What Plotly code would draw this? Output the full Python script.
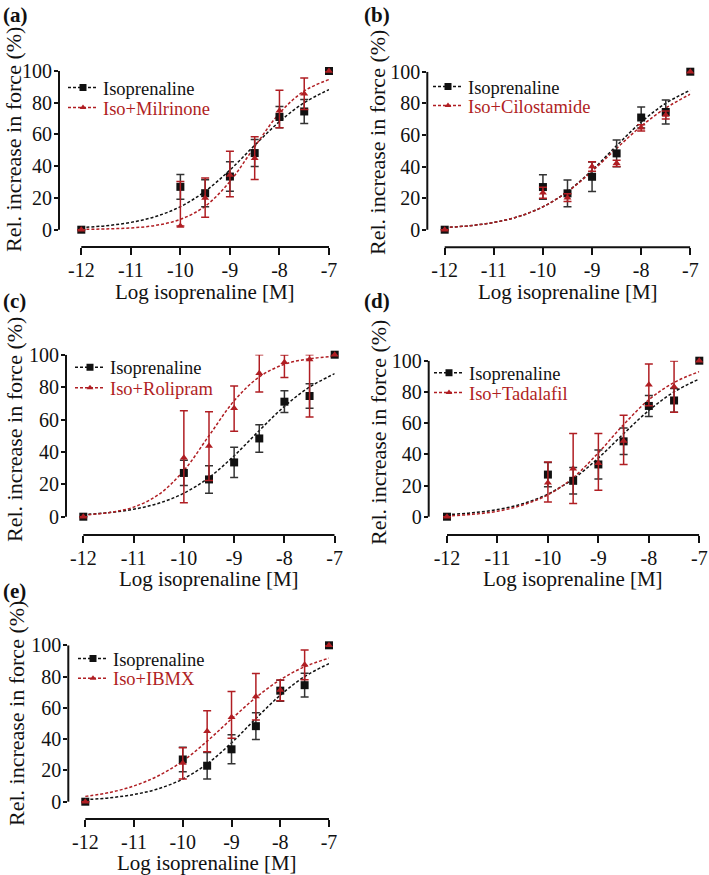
import plotly.graph_objects as go

# concentrations (log M) of the measured points and of the fitted curves
x_conc = [-12, -10, -9.5, -9, -8.5, -8, -7.5, -7]
fit_x = [-12, -11.5, -11, -10.5, -10, -9.5, -9, -8.5, -8, -7.5, -7]
x_tickvals = [-12, -11, -10, -9, -8, -7]
x_ticktext = ["-12", "-11", "-10", "-9", "-8", "-7"]
y_tickvals = [0, 20, 40, 60, 80, 100]

# isoprenaline alone (same control in every panel)
iso_mean = [0, 27, 23, 33.5, 48.3, 71, 74.5, 100]
iso_sem = [0, 7.8, 8.5, 9.3, 8.5, 6.7, 7.6, 0]
iso_fit = [1.3, 2.5, 4.6, 8.3, 14.5, 24.2, 37.6, 53.2, 68.1, 80.0, 88.3]

# isoprenaline + PDE inhibitor
mil_mean = [0, 2.3, 20, 34.5, 45, 75, 85.7, 100]
mil_up = [0, 28, 12.6, 14.9, 13.6, 12.8, 9.9, 0]
mil_dn = [0, 0, 12.2, 13.7, 13.3, 10.7, 9.9, 0]
mil_fit = [0.2, 0.5, 1.1, 2.7, 6.5, 14.8, 30.4, 52.3, 73.4, 87.4, 94.6]

cil_mean = [0, 23.4, 20.3, 40, 42, 64.5, 72.6, 100]
cil_up = [0, 3.5, 2.5, 3, 2, 2, 2.5, 0]
cil_dn = [0, 3.5, 2.5, 3, 2, 2, 2.5, 0]
cil_fit = [1.3, 2.5, 4.6, 8.3, 14.5, 24.0, 37.0, 51.5, 65.5, 77.0, 85.8]

rol_mean = [0, 36.4, 43.6, 66.9, 88.5, 95.3, 97.1, 100]
rol_up = [0, 29, 21.2, 13.8, 11.5, 4.5, 2.9, 0]
rol_dn = [0, 27.8, 21.2, 14.2, 11.5, 9.3, 35.6, 0]
rol_fit = [1.0, 2.5, 5.9, 13.7, 28.5, 50.0, 71.5, 86.3, 94.1, 97.5, 99.0]

tad_mean = [0, 21.8, 30.8, 34.2, 48.5, 84.6, 83.3, 100]
tad_up = [0, 13.2, 22.6, 19.2, 16.5, 13.3, 16.5, 0]
tad_dn = [0, 12.4, 22.3, 17.2, 15, 13.5, 16.3, 0]
tad_fit = [0.5, 1.5, 3.5, 7.5, 14.0, 25.0, 41.0, 59.0, 75.0, 86.0, 93.0]

ibmx_mean = [0, 24.7, 45, 54, 67.2, 71.4, 87.6, 100]
ibmx_up = [0, 9.8, 13.2, 16.4, 14.8, 6.4, 9.4, 0]
ibmx_dn = [0, 10.2, 13, 13.5, 15, 6.8, 9.6, 0]
ibmx_fit = [3.4, 5.9, 10.1, 16.6, 26.0, 38.7, 52.9, 66.6, 78.0, 86.3, 91.8]

panel_labels = ["(a)", "(b)", "(c)", "(d)", "(e)"]
drug_names = ["Iso+Milrinone", "Iso+Cilostamide", "Iso+Rolipram", "Iso+Tadalafil", "Iso+IBMX"]
drug_data = [
    (mil_mean, mil_up, mil_dn, mil_fit),
    (cil_mean, cil_up, cil_dn, cil_fit),
    (rol_mean, rol_up, rol_dn, rol_fit),
    (tad_mean, tad_up, tad_dn, tad_fit),
    (ibmx_mean, ibmx_up, ibmx_dn, ibmx_fit),
]

W, H = 709, 875
FONT = "Liberation Serif"
RED = "#B01E23"
BLACK = "#111111"

# pixel geometry of each panel: y-axis line x, x of -12 and -7, y of 100 and 0, x-axis line y
boxes = [
    dict(yax=59, x12=81.3, x7=329, y100=71, y0=229.7, xax=247),
    dict(yax=427.3, x12=444.7, x7=690.3, y100=71.7, y0=229.7, xax=247.3),
    dict(yax=66, x12=83.3, x7=334.7, y100=354.7, y0=516.7, xax=535),
    dict(yax=428.7, x12=447, x7=699.3, y100=360.7, y0=516.7, xax=535),
    dict(yax=68.3, x12=85.3, x7=329, y100=645.3, y0=801.7, xax=819),
]
# title / label / legend positions (px)
ytitle_pos = [(13, 140), (378, 142), (14, 430), (378, 432), (16, 714)]
xtitle_y = [292, 292, 579, 579, 863]
label_pos = [(1, 15), (362, 15), (1, 301), (362, 301), (1, 591)]
legend_pos = [(63, 88, 108), (428, 87, 106), (70, 367.7, 388.3), (429, 373.3, 393), (73, 659, 678.7)]

fig = go.Figure()
layout = dict(
    width=W, height=H, margin=dict(l=0, r=0, t=0, b=0, pad=0, autoexpand=False),
    paper_bgcolor="white", plot_bgcolor="white",
    font=dict(family=FONT, color=BLACK),
)
shapes, annotations = [], []

for i, b in enumerate(boxes):
    n = i + 1
    xa = "x" if n == 1 else f"x{n}"
    ya = "y" if n == 1 else f"y{n}"
    sx = (b["x7"] - b["x12"]) / 5
    sy = (b["y0"] - b["y100"]) / 100
    xmin = -12 - (b["x12"] - b["yax"]) / sx
    ymin = -(b["xax"] - b["y0"]) / sy
    layout[f"xaxis{'' if n == 1 else n}"] = dict(
        domain=[b["yax"] / W, b["x7"] / W], range=[xmin, -7], anchor=ya,
        showgrid=False, zeroline=False, showline=False, automargin=False,
        tickvals=x_tickvals, ticktext=x_ticktext, ticks="outside",
        ticklen=7, tickwidth=2, tickcolor=BLACK, ticklabelstandoff=-2,
        tickfont=dict(family=FONT, size=20, color=BLACK),
    )
    layout[f"yaxis{'' if n == 1 else n}"] = dict(
        domain=[1 - b["xax"] / H, 1 - b["y100"] / H], range=[ymin, 100], anchor=xa,
        showgrid=False, zeroline=False, showline=False, automargin=False,
        tickvals=y_tickvals, ticks="outside", ticklen=4, tickwidth=2, tickcolor=BLACK,
        ticklabelstandoff=-2,
        tickfont=dict(family=FONT, size=20, color=BLACK),
    )
    # detached Prism-style axis lines
    shapes.append(dict(type="line", xref=f"{xa} domain", yref=ya, x0=0, x1=0, y0=0, y1=100,
                       line=dict(color=BLACK, width=2)))
    shapes.append(dict(type="line", xref=xa, yref=f"{ya} domain", x0=-12, x1=-7, y0=0, y1=0,
                       line=dict(color=BLACK, width=2)))

    mean, up, dn, fit = drug_data[i]
    lg1 = "legend" if n == 1 else f"legend{2 * n - 1}"
    lg2 = f"legend{2 * n}"

    # fitted curves
    fig.add_trace(go.Scatter(x=fit_x, y=iso_fit, mode="lines", xaxis=xa, yaxis=ya,
                             line=dict(color=BLACK, width=1.5, dash="3px,2px", shape="spline"),
                             showlegend=False, hoverinfo="skip"))
    fig.add_trace(go.Scatter(x=fit_x, y=fit, mode="lines", xaxis=xa, yaxis=ya,
                             line=dict(color=RED, width=1.5, dash="3px,2px", shape="spline"),
                             showlegend=False, hoverinfo="skip"))
    # measured points
    fig.add_trace(go.Scatter(
        x=x_conc, y=iso_mean, mode="markers", xaxis=xa, yaxis=ya, cliponaxis=False,
        marker=dict(symbol="square", size=8, color=BLACK),
        error_y=dict(type="data", array=iso_sem, color="#333333", thickness=1.5, width=4),
        showlegend=False))
    fig.add_trace(go.Scatter(
        x=x_conc, y=mean, mode="markers", xaxis=xa, yaxis=ya, cliponaxis=False,
        marker=dict(symbol="triangle-up", size=7, color=RED),
        error_y=dict(type="data", symmetric=False, array=up, arrayminus=dn,
                     color=RED, thickness=1.5, width=4),
        showlegend=False))

    # legend entries
    fig.add_trace(go.Scatter(x=[None], y=[None], mode="lines+markers", xaxis=xa, yaxis=ya,
                             name="Isoprenaline", legend=lg1,
                             line=dict(color=BLACK, width=1.5, dash="3px,2px"),
                             marker=dict(symbol="square", size=7, color=BLACK)))
    fig.add_trace(go.Scatter(x=[None], y=[None], mode="lines+markers", xaxis=xa, yaxis=ya,
                             name=drug_names[i], legend=lg2,
                             line=dict(color=RED, width=1.5, dash="3px,2px"),
                             marker=dict(symbol="triangle-up", size=6, color=RED)))
    lx, ly1, ly2 = legend_pos[i]
    for lg, ly, col in ((lg1, ly1, BLACK), (lg2, ly2, RED)):
        layout[lg] = dict(x=lx / W, y=1 - ly / H, xanchor="left", yanchor="middle",
                          bgcolor="rgba(0,0,0,0)", borderwidth=0,
                          font=dict(family=FONT, size=18.5, color=col),
                          itemwidth=30, tracegroupgap=0)

    # titles and panel labels
    tx, ty = ytitle_pos[i]
    annotations.append(dict(text="Rel. increase in force (%)", x=tx / W, y=1 - ty / H,
                            xref="paper", yref="paper", showarrow=False, textangle=-90,
                            xanchor="center", yanchor="middle",
                            font=dict(family=FONT, size=22, color=BLACK)))
    annotations.append(dict(text="Log isoprenaline [M]", x=(b["x12"] + b["x7"]) / 2 / W,
                            y=1 - xtitle_y[i] / H, xref="paper", yref="paper", showarrow=False,
                            xanchor="center", yanchor="middle",
                            font=dict(family=FONT, size=21, color=BLACK)))
    px_, py_ = label_pos[i]
    annotations.append(dict(text=f"<b>{panel_labels[i]}</b>", x=px_ / W, y=1 - py_ / H,
                            xref="paper", yref="paper", showarrow=False,
                            xanchor="left", yanchor="middle",
                            font=dict(family=FONT, size=21, color=BLACK)))

layout["shapes"] = shapes
layout["annotations"] = annotations
fig.update_layout(**layout)

# drop the browser's default 8px body margin so the figure sits at the page origin
fig.write_html("out.html", config={"displayModeBar": False},
               post_script="document.body.style.margin = '0';")
